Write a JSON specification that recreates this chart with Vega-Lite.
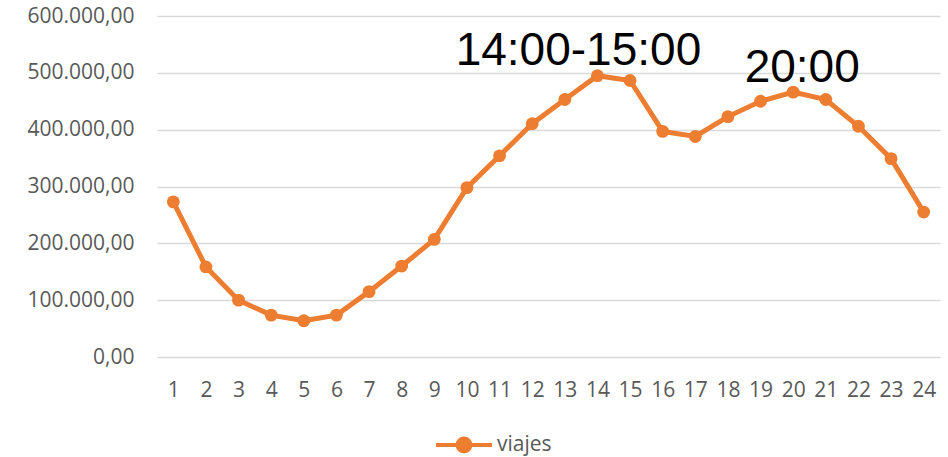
{
  "$schema": "https://vega.github.io/schema/vega-lite/v6.json",
  "width": 783,
  "height": 341,
  "autosize": {"type": "none"},
  "padding": {"left": 157, "top": 16, "right": 8, "bottom": 100},
  "background": "#ffffff",
  "config": {
    "view": {"stroke": null},
    "locale": {"number": {"decimal": ",", "thousands": ".", "grouping": [3], "currency": ["", " €"]}},
    "font": "Open Sans"
  },
  "layer": [
    {
      "data": {"values": [
        {"hora": 1, "viajes": 273000},
        {"hora": 2, "viajes": 158500},
        {"hora": 3, "viajes": 100000},
        {"hora": 4, "viajes": 73700},
        {"hora": 5, "viajes": 63700},
        {"hora": 6, "viajes": 73700},
        {"hora": 7, "viajes": 115000},
        {"hora": 8, "viajes": 160000},
        {"hora": 9, "viajes": 207000},
        {"hora": 10, "viajes": 298000},
        {"hora": 11, "viajes": 354000},
        {"hora": 12, "viajes": 410500},
        {"hora": 13, "viajes": 453000},
        {"hora": 14, "viajes": 495000},
        {"hora": 15, "viajes": 486500},
        {"hora": 16, "viajes": 397000},
        {"hora": 17, "viajes": 388000},
        {"hora": 18, "viajes": 423000},
        {"hora": 19, "viajes": 450000},
        {"hora": 20, "viajes": 466000},
        {"hora": 21, "viajes": 453000},
        {"hora": 22, "viajes": 406000},
        {"hora": 23, "viajes": 349000},
        {"hora": 24, "viajes": 255000}
      ]},
      "mark": {"type": "line", "strokeWidth": 5, "point": {"filled": true, "size": 165}},
      "encoding": {
        "x": {
          "field": "hora", "type": "ordinal", "title": null,
          "axis": {"labelAngle": 0, "domain": false, "ticks": false, "grid": false, "labelPadding": 22,
                   "labelFont": "Open Sans", "labelFontSize": 21, "labelColor": "#595959"}
        },
        "y": {
          "field": "viajes", "type": "quantitative", "title": null,
          "scale": {"domain": [0, 600000], "nice": false},
          "axis": {"values": [0, 100000, 200000, 300000, 400000, 500000, 600000], "format": ",.2f",
                   "domain": false, "ticks": false, "grid": true, "gridColor": "#D9D9D9", "gridWidth": 1.5,
                   "labelPadding": 23, "labelFont": "Open Sans", "labelFontSize": 21, "labelColor": "#595959"}
        },
        "color": {
          "datum": "viajes",
          "scale": {"range": ["#ED7D31"]},
          "legend": {
            "title": null, "orient": "none", "legendX": 277, "legendY": 399, "padding": 0,
            "symbolType": "M-1,0L1,0M-0.23,0A0.23,0.23,0,1,1,0.23,0A0.23,0.23,0,1,1,-0.23,0Z",
            "symbolSize": 3136, "symbolStrokeWidth": 4, "symbolFillColor": "#ED7D31", "symbolStrokeColor": "#ED7D31",
            "labelFont": "Open Sans", "labelFontSize": 21, "labelColor": "#595959", "labelOffset": 3
          }
        }
      }
    },
    {
      "data": {"values": [{"hora": 14, "viajes": 495000, "etiqueta": "14:00-15:00"}]},
      "mark": {"type": "text", "font": "Liberation Sans", "fontSize": 46, "color": "#000000", "align": "center", "baseline": "alphabetic", "dx": -19, "dy": -11},
      "encoding": {
        "x": {"field": "hora", "type": "ordinal"},
        "y": {"field": "viajes", "type": "quantitative"},
        "text": {"field": "etiqueta"}
      }
    },
    {
      "data": {"values": [{"hora": 20, "viajes": 466000, "etiqueta": "20:00"}]},
      "mark": {"type": "text", "font": "Liberation Sans", "fontSize": 46, "color": "#000000", "align": "center", "baseline": "alphabetic", "dx": 9, "dy": -10},
      "encoding": {
        "x": {"field": "hora", "type": "ordinal"},
        "y": {"field": "viajes", "type": "quantitative"},
        "text": {"field": "etiqueta"}
      }
    }
  ]
}
